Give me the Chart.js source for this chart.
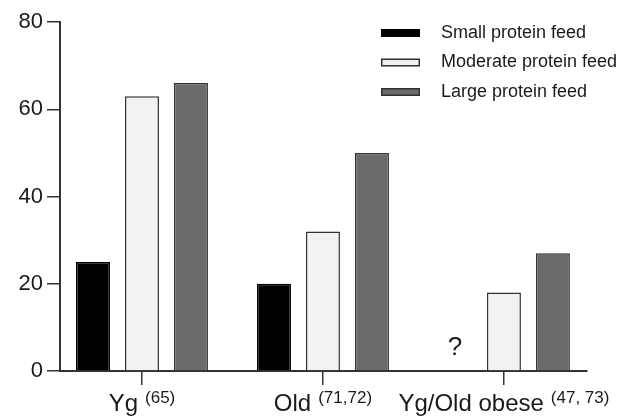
<!DOCTYPE html>
<html>
<head>
<meta charset="utf-8">
<script src="https://cdn.jsdelivr.net/npm/chart.js@4.4.1/dist/chart.umd.min.js"></script>
<style>
    html, body { margin: 0; padding: 0; background: #fff; }
    #chart { display: block; }
</style>
</head>
<body>
<canvas id="chart" width="633" height="418"></canvas>
<script>
const groups = ['Yg', 'Old', 'Yg/Old obese']
const refs = ['(65)', '(71,72)', '(47, 73)']
const seriesNames = ['Small protein feed', 'Moderate protein feed', 'Large protein feed']
const small = [25, 20, null]
const moderate = [63, 32, 18]
const large = [66, 50, 27]
const yTicks = [0, 20, 40, 60, 80]

const ink = '#1a1a1a'
const fontName = "'Liberation Sans', Arial, Helvetica, sans-serif"

// groups sit at x = 0, 1, 2 on a linear axis so the side margins can be set
const toPoints = arr => arr.map((v, i) => ({ x: i, y: v }))

// x labels with superscript refs, plus the "?" for the missing bar
const labelsPlugin = {
    id: 'groupLabels',
    afterDraw(chart) {
        const ctx = chart.ctx
        const xs = chart.scales.x
        ctx.save()
        ctx.fillStyle = ink
        ctx.textBaseline = 'alphabetic'
        ctx.textAlign = 'left'
        groups.forEach((g, i) => {
            const cx = xs.getPixelForValue(i)
            ctx.font = '24px ' + fontName
            const w1 = ctx.measureText(g).width
            ctx.font = '17px ' + fontName
            const w2 = ctx.measureText(refs[i]).width
            const gap = 7
            const start = cx - (w1 + gap + w2) / 2
            ctx.font = '24px ' + fontName
            ctx.fillText(g, start, 411)
            ctx.font = '17px ' + fontName
            ctx.fillText(refs[i], start + w1 + gap, 403)
        })
        // question mark where the small protein bar is missing
        const ys = chart.scales.y
        const m1 = chart.getDatasetMeta(1).data[2]
        const m2 = chart.getDatasetMeta(2).data[2]
        const qx = m1.x - (m2.x - m1.x)
        ctx.font = '26px ' + fontName
        ctx.textAlign = 'center'
        ctx.fillText('?', qx, ys.getPixelForValue(0) - 16)
        ctx.restore()
    }
}

// legend drawn at top right
const legendPlugin = {
    id: 'boxLegend',
    afterDraw(chart) {
        const ctx = chart.ctx
        ctx.save()
        ctx.font = '18px ' + fontName
        ctx.textBaseline = 'middle'
        ctx.textAlign = 'left'
        chart.data.datasets.forEach((ds, i) => {
            const y = 33 + i * 29.5
            ctx.fillStyle = ds.backgroundColor
            ctx.fillRect(381, y - 4, 39, 8)
            ctx.strokeStyle = ds.borderColor
            ctx.lineWidth = 1.5
            ctx.strokeRect(381.75, y - 3.25, 37.5, 6.5)
            ctx.fillStyle = ink
            ctx.fillText(ds.label, 441, y)
        })
        ctx.restore()
    }
}

new Chart(document.getElementById('chart'), {
    type: 'bar',
    data: {
        datasets: [
            {
                label: seriesNames[0],
                data: toPoints(small),
                backgroundColor: '#000000',
                borderColor: '#000000',
                borderWidth: 1.5
            },
            {
                label: seriesNames[1],
                data: toPoints(moderate),
                backgroundColor: '#f2f2f2',
                borderColor: '#333333',
                borderWidth: 1.5
            },
            {
                label: seriesNames[2],
                data: toPoints(large),
                backgroundColor: '#6b6b6b',
                borderColor: '#333333',
                borderWidth: 1.5
            }
        ]
    },
    options: {
        responsive: false,
        animation: false,
        devicePixelRatio: 1,
        categoryPercentage: 0.812,
        barPercentage: 0.694,
        layout: {
            padding: { top: 22, right: 46, bottom: 0, left: 0 }
        },
        plugins: {
            legend: { display: false },
            tooltip: { enabled: false }
        },
        scales: {
            x: {
                type: 'linear',
                offset: false,
                min: -0.453,
                max: 2.459,
                afterBuildTicks(scale) {
                    scale.ticks = [0, 1, 2].map(v => ({ value: v }))
                },
                grid: {
                    offset: false,
                    drawOnChartArea: false,
                    drawTicks: true,
                    tickLength: 14,
                    color: '#333',
                    lineWidth: 1.5
                },
                border: { display: true, color: '#333', width: 2 },
                ticks: { display: false },
                afterFit(scale) { scale.height = 47 }
            },
            y: {
                min: 0,
                max: 80,
                afterBuildTicks(scale) {
                    scale.ticks = yTicks.map(v => ({ value: v }))
                },
                grid: {
                    drawOnChartArea: false,
                    drawTicks: true,
                    tickLength: 13,
                    color: '#333',
                    lineWidth: 1.5
                },
                border: { display: true, color: '#333', width: 2 },
                ticks: {
                    color: ink,
                    padding: 4,
                    font: { size: 22, family: fontName }
                },
                afterFit(scale) { scale.width = 60 }
            }
        }
    },
    plugins: [labelsPlugin, legendPlugin]
})
</script>
</body>
</html>
